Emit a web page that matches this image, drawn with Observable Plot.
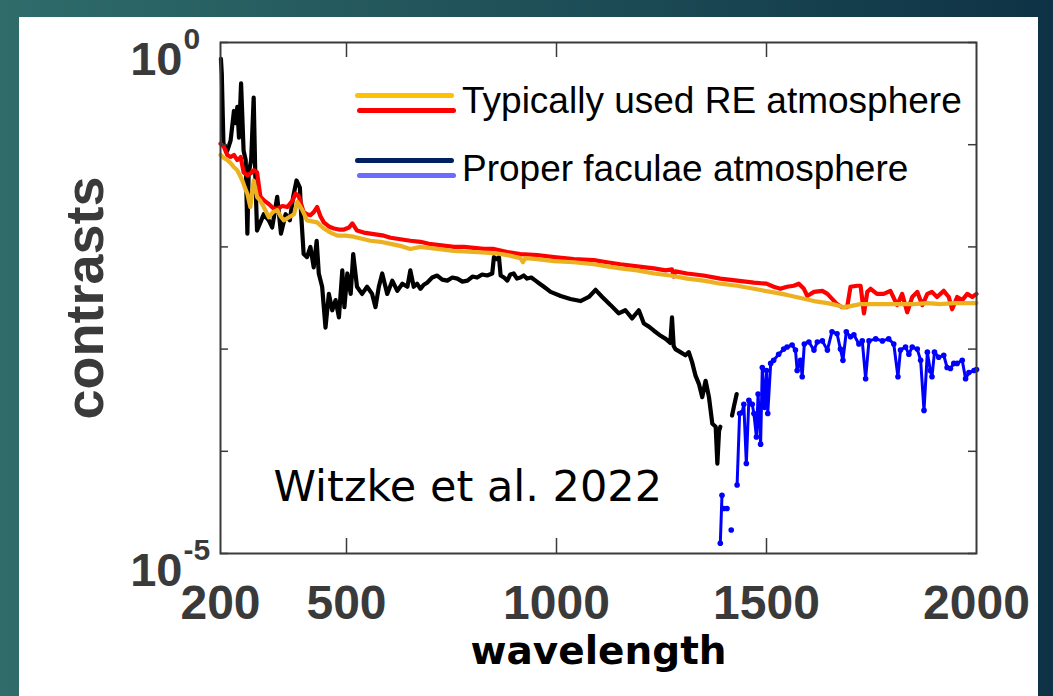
<!DOCTYPE html>
<html><head><meta charset="utf-8">
<script src="https://cdn.jsdelivr.net/npm/d3@7"></script>
<script src="https://cdn.jsdelivr.net/npm/@observablehq/plot@0.6"></script>
<style>
html,body{margin:0;padding:0;}
body{width:1053px;height:696px;overflow:hidden;position:relative;background:linear-gradient(90deg,#2f6c6a 0%,#1f5058 50%,#0e3245 100%);}
#panel{position:absolute;left:19px;top:17px;width:1019px;height:700px;background:#fff;}
#chart{position:absolute;left:0;top:0;}
.sw{position:absolute;height:5px;border-radius:3px;}
.lt{position:absolute;font-family:"Liberation Sans",Arial,sans-serif;font-size:37px;line-height:37px;color:#000;white-space:nowrap;}
</style></head><body>
<div id="panel"></div>
<div id="chart"></div>
<div id="legend"></div>
<script>
// ---- data: [wavelength, log10(contrast)] ----
const blackSeries = [[201,-0.16],[203,-0.30],[207,-0.99],[216,-1.06],[224,-0.96],[232,-0.67],[236,-0.79],[240,-0.63],[244,-0.93],[249,-0.40],[255,-1.06],[260,-1.15],[264,-1.87],[267,-1.28],[273,-1.15],[279,-0.54],[283,-1.32],[287,-1.84],[294,-1.77],[303,-1.68],[315,-1.74],[323,-1.81],[335,-1.51],[344,-1.87],[355,-1.68],[365,-1.74],[373,-1.51],[381,-1.35],[389,-1.42],[392,-1.68],[398,-2.07],[406,-2.10],[414,-2.00],[422,-2.20],[429,-1.94],[434,-2.26],[442,-2.39],[450,-2.79],[458,-2.46],[466,-2.62],[474,-2.52],[482,-2.69],[490,-2.23],[495,-2.59],[502,-2.26],[510,-2.46],[516,-2.07],[525,-2.39],[537,-2.46],[549,-2.39],[561,-2.46],[569,-2.59],[577,-2.39],[585,-2.26],[597,-2.46],[609,-2.33],[621,-2.43],[633,-2.36],[645,-2.39],[652,-2.23],[660,-2.39],[668,-2.36],[676,-2.41],[684,-2.37],[692,-2.35],[704,-2.30],[716,-2.28],[728,-2.32],[740,-2.33],[752,-2.30],[764,-2.31],[776,-2.34],[788,-2.33],[800,-2.29],[811,-2.30],[823,-2.27],[835,-2.28],[847,-2.26],[851,-2.10],[858,-2.12],[863,-2.10],[867,-2.28],[875,-2.30],[883,-2.33],[890,-2.27],[898,-2.26],[906,-2.31],[914,-2.30],[922,-2.28],[930,-2.31],[940,-2.30],[950,-2.33],[960,-2.36],[970,-2.39],[986,-2.44],[1010,-2.48],[1033,-2.51],[1057,-2.53],[1077,-2.49],[1093,-2.42],[1109,-2.49],[1129,-2.57],[1148,-2.65],[1164,-2.62],[1180,-2.70],[1196,-2.62],[1208,-2.75],[1220,-2.78],[1232,-2.82],[1248,-2.87],[1260,-2.90],[1271,-2.94],[1275,-2.69],[1279,-2.97],[1283,-3.00],[1295,-3.03],[1307,-3.06],[1315,-3.03],[1323,-3.13],[1331,-3.26],[1339,-3.34],[1347,-3.47],[1355,-3.31],[1363,-3.47],[1371,-3.73],[1379,-3.76],[1383,-4.12],[1387,-3.80],[1390,-3.76],[1405,null],[1418,-3.65],[1423,-3.55],[1429,-3.44]];

const blueSeries = [[1390,-4.90],[1394,-4.43],[1396,null],[1398,-4.56],[1406,-4.56],[1410,null],[1416,-4.77],[1422,null],[1430,-4.33],[1436,-3.63],[1442,-3.62],[1446,-3.54],[1452,-4.12],[1458,-3.50],[1466,-3.54],[1470,-3.63],[1476,-3.86],[1480,-3.44],[1486,-3.93],[1490,-3.18],[1495,-3.57],[1500,-3.21],[1503,-3.63],[1510,-3.14],[1517,-3.11],[1529,-3.05],[1541,-3.00],[1549,-2.98],[1561,-2.96],[1569,-3.01],[1573,-3.21],[1581,-3.11],[1585,-3.27],[1590,-2.95],[1601,-2.93],[1613,-3.01],[1621,-2.93],[1633,-2.92],[1645,-3.01],[1656,-2.83],[1668,-2.85],[1676,-3.00],[1682,-3.11],[1690,-2.83],[1700,-2.88],[1708,-2.86],[1720,-2.95],[1728,-2.92],[1736,-3.29],[1744,-2.92],[1760,-2.90],[1776,-2.92],[1791,-2.90],[1803,-2.95],[1813,-3.27],[1819,-3.01],[1831,-2.98],[1839,-3.05],[1847,-2.98],[1859,-3.00],[1867,-3.11],[1875,-3.60],[1883,-3.03],[1890,-3.21],[1894,-3.27],[1900,-3.03],[1910,-3.08],[1922,-3.06],[1930,-3.18],[1938,-3.19],[1946,-3.14],[1954,-3.14],[1966,-3.11],[1974,-3.29],[1982,-3.23],[1994,-3.21],[2000,-3.20]];

const redSeries = [[200,-0.99],[208,-1.02],[216,-1.10],[224,-1.12],[232,-1.10],[240,-1.15],[244,-1.14],[248,-1.12],[255,-1.27],[264,-1.30],[272,-1.28],[279,-1.25],[287,-1.27],[295,-1.51],[305,-1.55],[315,-1.58],[325,-1.62],[335,-1.63],[347,-1.60],[359,-1.61],[371,-1.55],[379,-1.48],[386,-1.50],[398,-1.66],[406,-1.68],[414,-1.69],[422,-1.66],[430,-1.61],[438,-1.70],[446,-1.76],[458,-1.80],[470,-1.82],[482,-1.83],[494,-1.83],[506,-1.81],[514,-1.77],[525,-1.84],[541,-1.86],[557,-1.87],[573,-1.88],[589,-1.89],[605,-1.91],[621,-1.92],[636,-1.93],[652,-1.94],[676,-1.95],[696,-1.97],[716,-1.98],[736,-1.99],[756,-2.00],[780,-2.00],[803,-2.01],[827,-2.02],[851,-2.02],[883,-2.05],[914,-2.07],[954,-2.08],[994,-2.10],[1041,-2.12],[1089,-2.13],[1120,-2.15],[1152,-2.17],[1192,-2.19],[1232,-2.21],[1260,-2.23],[1275,-2.22],[1279,-2.29],[1283,-2.24],[1311,-2.26],[1350,-2.28],[1390,-2.31],[1430,-2.33],[1470,-2.35],[1500,-2.36],[1517,-2.39],[1533,-2.41],[1549,-2.39],[1565,-2.38],[1577,-2.36],[1589,-2.41],[1597,-2.48],[1613,-2.44],[1633,-2.43],[1645,-2.46],[1668,-2.56],[1680,-2.59],[1692,-2.59],[1700,-2.39],[1716,-2.38],[1724,-2.38],[1732,-2.65],[1740,-2.44],[1748,-2.41],[1763,-2.46],[1779,-2.46],[1795,-2.43],[1811,-2.57],[1823,-2.46],[1835,-2.64],[1847,-2.49],[1859,-2.44],[1871,-2.57],[1883,-2.46],[1894,-2.44],[1906,-2.49],[1922,-2.43],[1934,-2.49],[1942,-2.61],[1954,-2.49],[1966,-2.52],[1978,-2.46],[1990,-2.49],[2000,-2.46]];

const orangeSeries = [[200,-1.10],[208,-1.13],[216,-1.15],[224,-1.18],[232,-1.22],[240,-1.25],[246,-1.30],[252,-1.35],[258,-1.42],[264,-1.48],[271,-1.61],[279,-1.35],[287,-1.51],[295,-1.55],[303,-1.61],[315,-1.71],[325,-1.66],[335,-1.64],[343,-1.70],[351,-1.74],[363,-1.71],[375,-1.68],[383,-1.56],[395,-1.64],[406,-1.74],[418,-1.75],[430,-1.76],[446,-1.82],[462,-1.86],[478,-1.89],[497,-1.89],[517,-1.90],[537,-1.92],[557,-1.94],[581,-1.95],[605,-1.97],[628,-1.99],[652,-2.02],[676,-2.00],[716,-2.02],[756,-2.04],[803,-2.05],[851,-2.06],[883,-2.08],[914,-2.11],[920,-2.15],[926,-2.11],[954,-2.12],[994,-2.14],[1041,-2.15],[1089,-2.17],[1120,-2.19],[1152,-2.21],[1192,-2.23],[1232,-2.26],[1271,-2.28],[1311,-2.31],[1350,-2.33],[1390,-2.36],[1430,-2.38],[1470,-2.41],[1510,-2.44],[1549,-2.47],[1581,-2.50],[1613,-2.53],[1645,-2.55],[1668,-2.57],[1684,-2.59],[1700,-2.58],[1724,-2.56],[1756,-2.56],[1788,-2.56],[1819,-2.56],[1851,-2.56],[1883,-2.55],[1914,-2.56],[1946,-2.55],[2000,-2.55]];

const xTickValues = [200, 500, 1000, 1500, 2000];
const xInnerTicks = [500, 1000, 1500];
const yDecades = [1e-5, 1e-4, 1e-3, 1e-2, 1e-1, 1];
const yLabelValues = [1, 1e-5];
const yLabelExponents = ["0", "-5"];
const xTitle = "wavelength";
const yTitle = "contrasts";
const annotation = "Witzke et al. 2022";
const legendLabels = ["Typically used RE atmosphere", "Proper faculae atmosphere"];
const legendColors = [["#ffc000", "#ff0000"], ["#002060", "#6b6bff"]];

// ---- build ----
const toRows = s => s.map(([w, l]) => ({wl: w, c: l == null ? NaN : Math.pow(10, l)}));
const black = toRows(blackSeries), blue = toRows(blueSeries), red = toRows(redSeries), orange = toRows(orangeSeries);

const W = 1053, H = 696, mL = 220, mR = 77, mT = 42, mB = 143;
const fw = W - mL - mR, fh = H - mT - mB;
const sans = "Liberation Sans, Arial, Helvetica, sans-serif";
const gray = "#3a3a3a";

const chart = Plot.plot({
  width: W, height: H,
  marginLeft: mL, marginRight: mR, marginTop: mT, marginBottom: mB,
  style: {background: "transparent", overflow: "visible"},
  x: {domain: [200, 2000], axis: null},
  y: {type: "log", domain: [1e-5, 1], axis: null},
  marks: [
    Plot.line(black, {x: "wl", y: "c", stroke: "#000", strokeWidth: 4.2}),
    Plot.line(blue, {x: "wl", y: "c", stroke: "#0000ff", strokeWidth: 3}),
    Plot.dot(blue, {x: "wl", y: "c", r: 2.8, fill: "#0000ff"}),
    Plot.line(red, {x: "wl", y: "c", stroke: "#ff0000", strokeWidth: 4.2}),
    Plot.line(orange, {x: "wl", y: "c", stroke: "#EDB120", strokeWidth: 4.2}),
    Plot.frame({stroke: gray, strokeWidth: 2}),
    Plot.tickX(xInnerTicks, {x: d => d, insetTop: fh - 15, stroke: gray, strokeWidth: 1.5}),
    Plot.tickX(xInnerTicks, {x: d => d, insetBottom: fh - 15, stroke: gray, strokeWidth: 1.5}),
    Plot.tickY(yDecades, {y: d => d, insetRight: fw - 8, stroke: gray, strokeWidth: 1.5}),
    Plot.tickY(yDecades, {y: d => d, insetLeft: fw - 8, stroke: gray, strokeWidth: 1.5}),
    Plot.text(xTickValues, {x: d => d, frameAnchor: "bottom", lineAnchor: "top", dy: 31, text: d => String(d),
      fontSize: 48, fontWeight: "bold", fontFamily: sans, fill: gray}),
    Plot.text(yLabelValues, {y: d => d, frameAnchor: "left", textAnchor: "end", dx: -38, dy: 17, text: () => "10",
      fontSize: 47, fontWeight: "bold", fontFamily: sans, fill: gray}),
    Plot.text(yLabelValues, {y: d => d, frameAnchor: "left", textAnchor: "start", dx: -37, dy: -3, text: (d, i) => yLabelExponents[i],
      fontSize: 30, fontWeight: "bold", fontFamily: sans, fill: gray}),
    Plot.text([xTitle], {text: d => d, frameAnchor: "bottom", textAnchor: "middle", dy: 110, fontSize: 39, fontWeight: "bold",
      fontFamily: "DejaVu Sans, sans-serif", fill: "#000", letterSpacing: 1.2}),
    Plot.text([yTitle], {text: d => d, frameAnchor: "left", textAnchor: "middle", dx: -135, rotate: -90, fontSize: 54, fontWeight: "bold",
      fontFamily: sans, fill: gray}),
    Plot.text([annotation], {text: d => d, frameAnchor: "bottom-left", textAnchor: "start", dx: 53, dy: -53,
      fontSize: 43, fontFamily: "DejaVu Sans, sans-serif", fill: "#000"})
  ]
});
document.getElementById("chart").appendChild(chart);

// legend (inside the plot, top right)
const lg = document.getElementById("legend");
const swTops = [[93, 108], [158, 173]];
const txtTops = [82, 150];
legendLabels.forEach((label, i) => {
  legendColors[i].forEach((c, j) => {
    const d = document.createElement("div");
    d.className = "sw";
    d.style.left = (355 + 2 * j) + "px";
    d.style.width = "99px";
    d.style.top = swTops[i][j] + "px";
    d.style.background = c;
    lg.appendChild(d);
  });
  const t = document.createElement("div");
  t.className = "lt";
  t.style.left = "462px";
  t.style.top = txtTops[i] + "px";
  t.textContent = label;
  lg.appendChild(t);
});
</script>
</body></html>
